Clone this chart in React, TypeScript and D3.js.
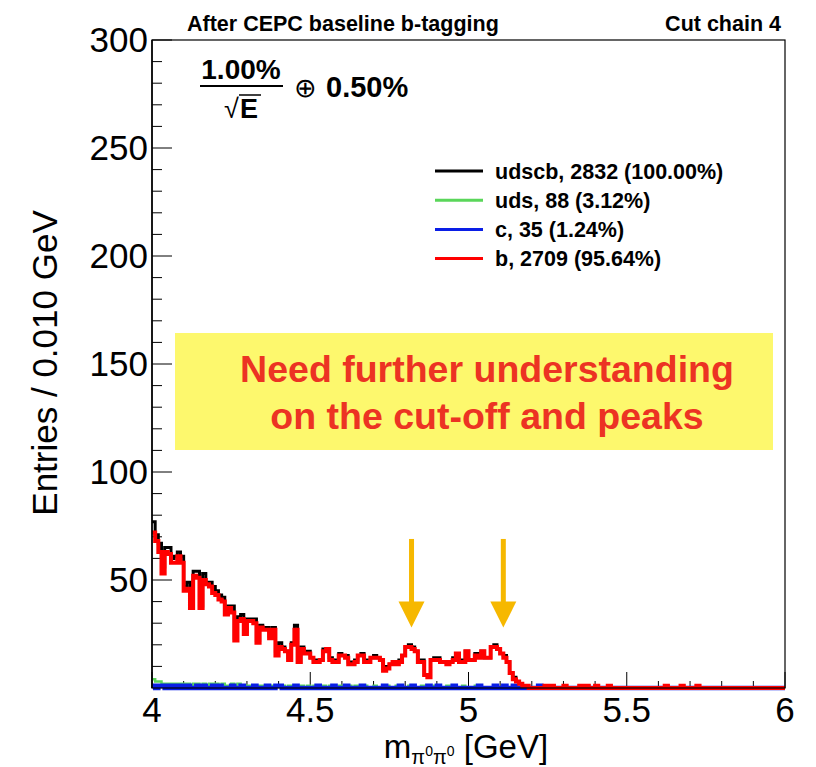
import React from "react";
import * as d3 from "d3";

// Histogram binning: 200 bins of 0.010 GeV from 4 to 6 GeV
const xMin = 4;
const xMax = 6;
const binWidth = 0.01;

// b-quark events per bin
const bCounts = [
  72, 68, 63, 53, 63, 62, 58, 58, 61, 58,
  45, 46, 37, 52, 51, 37, 50, 48, 47, 44,
  43, 41, 40, 34, 37, 35, 22, 31, 32, 25,
  31, 31, 30, 21, 28, 27, 27, 23, 27, 15,
  19, 18, 17, 13, 20, 27, 12, 18, 16, 16,
  14, 12, 12, 13, 17, 18, 13, 12, 12, 15,
  15, 14, 11, 11, 12, 15, 15, 12, 12, 14,
  14, 14, 13, 8, 9, 11, 12, 11, 12, 15,
  19, 19, 18, 17, 12, 12, 6, 5, 13, 13,
  13, 12, 12, 11, 12, 13, 16, 12, 12, 17,
  13, 13, 15, 14, 17, 14, 14, 19, 19, 18,
  16, 14, 12, 7, 4, 3, 2, 1, 1, 0,
  0, 0, 0, 0, 1, 0, 1, 0, 0, 0,
  1, 0, 0, 0, 0, 1, 0, 1, 0, 0,
  1, 0, 0, 0, 1, 0, 0, 0, 0, 0,
  0, 0, 0, 0, 0, 0, 0, 0, 0, 0,
  0, 0, 1, 0, 0, 0, 0, 1, 0, 0,
  0, 0, 1, 0, 0, 0, 0, 0, 0, 0,
  0, 0, 0, 0, 0, 0, 0, 0, 0, 0,
  0, 0, 0, 0, 0, 0, 0, 0, 0, 0,
];

// uds events per bin
const udsCounts = [
  4, 3, 3, 2, 2, 2, 2, 2, 2, 2,
  2, 2, 1, 2, 2, 1, 2, 1, 2, 2,
  2, 1, 2, 1, 1, 2, 1, 2, 1, 1,
  1, 1, 1, 1, 1, 1, 0, 1, 1, 1,
  1, 1, 0, 1, 1, 1, 0, 1, 0, 1,
  0, 1, 0, 0, 1, 0, 1, 0, 0, 1,
  0, 0, 1, 0, 1, 0, 0, 1, 0, 0,
  1, 0, 0, 0, 1, 0, 0, 1, 0, 0,
  0, 1, 0, 0, 0, 1, 0, 0, 0, 1,
  0, 0, 0, 1, 0, 0, 0, 0, 1, 0,
  0, 0, 1, 0, 0, 0, 0, 0, 0, 0,
  0, 0, 0, 0, 0, 0, 0, 0, 0, 0,
  ...new Array(80).fill(0),
];

// c events per bin
const cCounts = [
  1, 0, 1, 1, 0, 1, 0, 1, 0, 1,
  0, 1, 0, 0, 1, 0, 1, 0, 0, 1,
  0, 1, 0, 0, 0, 1, 0, 0, 1, 0,
  0, 0, 1, 0, 0, 0, 1, 0, 0, 1,
  1, 0, 0, 0, 0, 1, 0, 0, 0, 0,
  0, 0, 1, 0, 0, 0, 0, 1, 0, 0,
  0, 1, 0, 0, 0, 0, 1, 0, 0, 0,
  0, 0, 0, 1, 0, 0, 0, 0, 1, 0,
  0, 0, 1, 0, 0, 0, 0, 1, 0, 0,
  1, 0, 0, 0, 0, 1, 0, 0, 0, 0,
  0, 0, 0, 1, 0, 0, 0, 0, 1, 0,
  0, 1, 0, 0, 1, 0, 0, 0, 0, 0,
  0, 0, 1, 0, 0, 0, 0, 0, 0, 0,
  ...new Array(70).fill(0),
];

// all flavours together
const udscbCounts = bCounts.map((v, i) => v + udsCounts[i] + cCounts[i]);

const legendLabels = [
  "udscb, 2832 (100.00%)",
  "uds, 88 (3.12%)",
  "c, 35 (1.24%)",
  "b, 2709 (95.64%)",
];
const seriesColors = ["#000000", "#5ad65a", "#0a1ee6", "#ff0000"];
const seriesWidths = [3, 2.5, 4.5, 4];

const xMajorTicks = [4, 4.5, 5, 5.5, 6];
const xTickLabels = ["4", "4.5", "5", "5.5", "6"];
const yMajorTicks = [50, 100, 150, 200, 250, 300];

// peak markers (GeV) and their vertical extent in entries
const arrowX = [4.82, 5.11];
const arrowTop = 69;
const arrowTip = 28;

const FONT = "'Liberation Sans', Arial, Helvetica, sans-serif";

export default function App() {
  const W = 816;
  const H = 767;
  const left = 152;
  const right = 785;
  const top = 40;
  const bottom = 688;

  const x = d3.scaleLinear().domain([xMin, xMax]).range([left, right]);
  const y = d3.scaleLinear().domain([0, 300]).range([bottom, top]);

  const histPath = (counts: number[]) => {
    const pts: [number, number][] = counts.map((v, i) => [xMin + i * binWidth, v]);
    pts.push([xMax, counts[counts.length - 1]]);
    return d3
      .line<[number, number]>()
      .x((d) => x(d[0]))
      .y((d) => y(d[1]))
      .curve(d3.curveStepAfter)(pts) as string;
  };

  const series = [udscbCounts, udsCounts, cCounts, bCounts];

  const xMinor = d3.range(0, 21).map((i) => xMin + i * 0.1);
  const yMinor = d3.range(1, 31).map((i) => i * 10);

  const arrowColor = "#f6b800";

  return (
    <svg width={W} height={H} style={{ display: "block", position: "absolute", left: 0, top: 0 }}>
      <rect x={0} y={0} width={W} height={H} fill="#ffffff" />

      {/* header */}
      <text x={187} y={31} fontFamily={FONT} fontWeight="bold" fontSize={21.5}>
        After CEPC baseline b-tagging
      </text>
      <text x={781} y={31} fontFamily={FONT} fontWeight="bold" fontSize={21.5} textAnchor="end">
        Cut chain 4
      </text>

      {/* ticks */}
      {xMinor.map((t, i) => {
        const major = xMajorTicks.some((m) => Math.abs(m - t) < 1e-6);
        return (
          <line key={"xt" + i} x1={x(t)} x2={x(t)} y1={bottom} y2={bottom - (major ? 16 : 7)} stroke="#000" strokeWidth={1} />
        );
      })}
      {yMinor.map((t, i) => {
        const major = t % 50 === 0;
        return (
          <line key={"yt" + i} x1={left} x2={left + (major ? 20 : 10)} y1={y(t)} y2={y(t)} stroke="#000" strokeWidth={1} />
        );
      })}

      {/* tick labels */}
      {xMajorTicks.map((t, i) => (
        <text key={"xl" + i} x={x(t)} y={722} textAnchor="middle" fontFamily={FONT} fontSize={35}>
          {xTickLabels[i]}
        </text>
      ))}
      {yMajorTicks.map((t) => (
        <text key={"yl" + t} x={148} y={y(t) + 12} textAnchor="end" fontFamily={FONT} fontSize={35}>
          {t}
        </text>
      ))}

      {/* axis titles */}
      <text
        transform={`translate(57, ${363}) rotate(-90)`}
        textAnchor="middle"
        fontFamily={FONT}
        fontSize={35}
      >
        Entries / 0.010 GeV
      </text>
      <text x={466} y={758} textAnchor="middle" fontFamily={FONT} fontSize={33}>
        m
        <tspan fontSize={20} dy={6}>π</tspan>
        <tspan fontSize={14} dy={-8}>0</tspan>
        <tspan fontSize={20} dy={8}>π</tspan>
        <tspan fontSize={14} dy={-8}>0</tspan>
        <tspan dy={2}> [GeV]</tspan>
      </text>

      {/* resolution formula */}
      <text x={241} y={79} textAnchor="middle" fontFamily={FONT} fontWeight="bold" fontSize={28}>
        1.00%
      </text>
      <line x1={200} x2={283} y1={86} y2={86} stroke="#000" strokeWidth={2} />
      <text x={224} y={118} fontFamily={FONT} fontSize={27}>
        √
      </text>
      <line x1={239} x2={261} y1={95} y2={95} stroke="#000" strokeWidth={1.5} />
      <text x={240} y={118} fontFamily={FONT} fontWeight="bold" fontSize={27}>
        E
      </text>
      <text x={294} y={97} fontFamily={FONT} fontSize={27}>
        ⊕
      </text>
      <text x={326} y={97} fontFamily={FONT} fontWeight="bold" fontSize={29}>
        0.50%
      </text>

      {/* legend */}
      {legendLabels.map((lab, i) => {
        const ly = 171 + i * 29.2;
        return (
          <g key={"lg" + i}>
            <line x1={435} x2={483} y1={ly} y2={ly} stroke={seriesColors[i]} strokeWidth={3} />
            <text x={495} y={ly + 7.5} fontFamily={FONT} fontWeight="bold" fontSize={21.5}>
              {lab}
            </text>
          </g>
        );
      })}

      {/* annotation box */}
      <rect x={175} y={333} width={598} height={117} fill="#fdf86d" />
      <text x={487} y={382} textAnchor="middle" fontFamily={FONT} fontWeight="bold" fontSize={37.5} fill="#ec3323">
        Need further understanding
      </text>
      <text x={487} y={429} textAnchor="middle" fontFamily={FONT} fontWeight="bold" fontSize={37.5} fill="#ec3323">
        on the cut-off and peaks
      </text>

      {/* histograms */}
      {series.map((s, i) => (
        <path
          key={"h" + i}
          d={histPath(s)}
          fill="none"
          stroke={seriesColors[i]}
          strokeWidth={seriesWidths[i]}
          strokeLinejoin="miter"
        />
      ))}

      {/* peak arrows */}
      {arrowX.map((ax, i) => {
        const cx = x(ax);
        const yTop = y(arrowTop);
        const yTip = y(arrowTip);
        const headH = 26;
        return (
          <g key={"ar" + i}>
            <rect x={cx - 2.5} y={yTop} width={5} height={yTip - yTop - headH + 1} fill={arrowColor} />
            <path d={`M${cx - 13},${yTip - headH} L${cx + 13},${yTip - headH} L${cx},${yTip} Z`} fill={arrowColor} />
          </g>
        );
      })}

      {/* frame */}
      <rect x={left} y={top} width={right - left} height={bottom - top} fill="none" stroke="#000" strokeWidth={1.2} />
      <line x1={left} x2={left} y1={top} y2={bottom} stroke="#000" strokeWidth={1.5} />
    </svg>
  );
}
